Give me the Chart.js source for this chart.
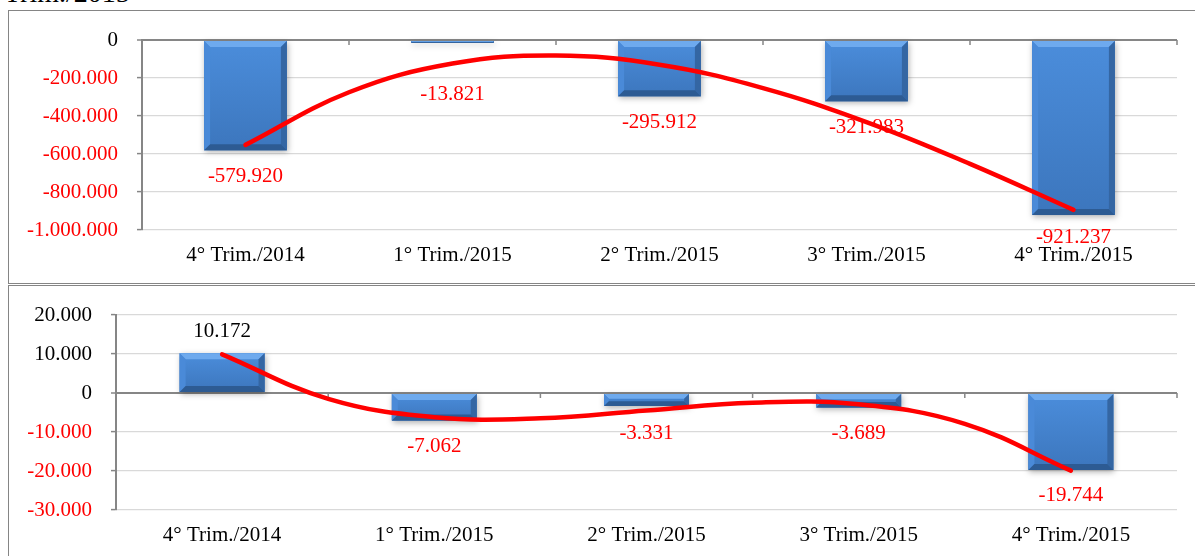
<!DOCTYPE html>
<html lang="pt">
<head>
<meta charset="UTF-8" />
<title>Trimestres</title>
<script src="https://cdn.jsdelivr.net/npm/chart.js"></script>
<style>
  body { margin: 0; width: 1195px; height: 556px; overflow: hidden; background: #fff; position: relative; font-family: 'Liberation Serif', 'Times New Roman', serif; }
  .caption { position: absolute; left: 4px; top: -21px; font-size: 28px; line-height: 1; color: #000; white-space: nowrap; }
  .frame { position: absolute; left: 8px; width: 1200px; border: 1.5px solid #858585; box-sizing: border-box; }
  .box { position: absolute; left: 9px; width: 1186px; }
</style>
</head>
<body>
  <div class="caption">Trim./2015</div>
  <div class="frame" style="top:10px;height:274px"></div>
  <div class="frame" style="top:285px;height:290px"></div>
  <div class="box" style="top:12px;height:270px"><canvas id="chartTop"></canvas></div>
  <div class="box" style="top:287px;height:269px"><canvas id="chartBottom"></canvas></div>

<script>
  // quarters on the x axis
  const quarters = ['4° Trim./2014', '1° Trim./2015', '2° Trim./2015', '3° Trim./2015', '4° Trim./2015'];

  // bar values
  const valuesTop = [-579920, -13821, -295912, -321983, -921237];
  const valuesBottom = [10172, -7062, -3331, -3689, -19744];

  // y axis ticks
  const yTicksTop = [0, -200000, -400000, -600000, -800000, -1000000];
  const yTicksBottom = [20000, 10000, 0, -10000, -20000, -30000];

  // red trend curve at half-category steps
  const trendPos = [0, 0.5, 1, 1.5, 2, 2.5, 3, 3.5, 4];
  const trendTop = [-552000, -275000, -124000, -82000, -130000, -253000, -432000, -652000, -894000];
  const trendBottom = [9900, -1500, -6200, -6500, -4500, -2500, -2900, -7900, -19900];

  const FONT = "'Liberation Serif', 'Times New Roman', serif";

  function fmt(n) {
    const s = Math.abs(Math.round(n)).toString().replace(/\B(?=(\d{3})+(?!\d))/g, '.');
    return (n < 0 ? '-' : '') + s;
  }

  // bevelled bars + value labels (drawn before the trend line)
  const barLook = {
    id: 'barLook',
    afterDatasetDraw(chart, args, opts) {
      if (args.meta.type !== 'bar') return;
      const ctx = chart.ctx;
      const vals = opts.values;
      args.meta.data.forEach((bar, i) => {
        const x0 = bar.x - bar.width / 2, x1 = bar.x + bar.width / 2;
        const y0 = Math.min(bar.y, bar.base), y1 = Math.max(bar.y, bar.base);
        const w = x1 - x0, h = y1 - y0;
        const b = Math.min(6, h / 2.5);
        ctx.save();
        ctx.shadowColor = 'rgba(0,0,0,0.3)';
        ctx.shadowBlur = 6;
        ctx.shadowOffsetX = 1;
        ctx.shadowOffsetY = 2;
        const g = ctx.createLinearGradient(0, y0, 0, y1);
        g.addColorStop(0, '#4b8ddb');
        g.addColorStop(1, '#3c76bd');
        ctx.fillStyle = g;
        ctx.fillRect(x0, y0, w, h);
        ctx.shadowColor = 'transparent';
        const poly = (pts, col) => {
          ctx.beginPath();
          ctx.moveTo(pts[0][0], pts[0][1]);
          pts.slice(1).forEach(p => ctx.lineTo(p[0], p[1]));
          ctx.closePath();
          ctx.fillStyle = col;
          ctx.fill();
        };
        poly([[x0, y0], [x1, y0], [x1 - b, y0 + b], [x0 + b, y0 + b]], '#6eaaee');
        poly([[x0, y0], [x0 + b, y0 + b], [x0 + b, y1 - b], [x0, y1]], '#4a8ad8');
        poly([[x1, y0], [x1, y1], [x1 - b, y1 - b], [x1 - b, y0 + b]], '#3466a3');
        poly([[x0, y1], [x0 + b, y1 - b], [x1 - b, y1 - b], [x1, y1]], '#2d5b93');
        ctx.restore();

        // value label
        const v = vals[i];
        const off = opts.offsets[i];
        const ly = v < 0 ? bar.y + off : bar.y - off;
        ctx.save();
        ctx.font = '21px ' + FONT;
        ctx.fillStyle = v < 0 ? '#ff0000' : '#000000';
        ctx.textAlign = 'center';
        ctx.textBaseline = 'middle';
        ctx.fillText(fmt(v), bar.x, ly);
        ctx.restore();
      });
    }
  };

  // small tick marks on the zero line at category boundaries
  const zeroTicks = {
    id: 'zeroTicks',
    beforeDatasetsDraw(chart) {
      const x = chart.scales.x, y = chart.scales.y;
      const y0 = y.getPixelForValue(0);
      const ctx = chart.ctx;
      ctx.save();
      ctx.strokeStyle = '#868686';
      ctx.lineWidth = 1.5;
      for (let i = 0; i <= quarters.length; i++) {
        const px = x.getPixelForValue(i - 0.5);
        ctx.beginPath();
        ctx.moveTo(px, y0);
        ctx.lineTo(px, y0 + 5);
        ctx.stroke();
      }
      ctx.restore();
    }
  };

  function makeChart(id, values, trend, yTicks, axisWidth, offsets, pad) {
    const yMax = Math.max(...yTicks), yMin = Math.min(...yTicks);
    return new Chart(document.getElementById(id), {
      type: 'bar',
      data: {
        datasets: [
          {
            type: 'line',
            data: trendPos.map((p, i) => ({ x: p, y: trend[i] })),
            borderColor: '#ff0000',
            borderWidth: 4.5,
            borderCapStyle: 'round',
            pointRadius: 0,
            tension: 0.4,
            fill: false,
            order: 0
          },
          {
            type: 'bar',
            data: values.map((v, i) => ({ x: i, y: v })),
            backgroundColor: '#3f7ecb',
            barPercentage: 0.4,
            categoryPercentage: 1,
            order: 1
          }
        ]
      },
      options: {
        responsive: true,
        maintainAspectRatio: false,
        animation: false,
        layout: { padding: pad },
        plugins: {
          legend: { display: false },
          tooltip: { enabled: false },
          barLook: { offsets: offsets, values: values }
        },
        scales: {
          x: {
            type: 'linear',
            min: -0.5,
            max: quarters.length - 0.5,
            offset: false,
            afterBuildTicks: s => { s.ticks = quarters.map((q, i) => ({ value: i })); },
            afterFit: s => { s.height = 39; },
            grid: { display: false, drawTicks: false },
            border: { display: false },
            ticks: {
              autoSkip: false,
              color: '#000',
              font: { family: FONT, size: 21 },
              padding: 13,
              maxRotation: 0,
              callback: v => quarters[v] ?? ''
            }
          },
          y: {
            min: yMin,
            max: yMax,
            afterFit: s => { s.width = axisWidth; s.paddingTop = 0; s.paddingBottom = 0; },
            ticks: {
              stepSize: yTicks[0] - yTicks[1],
              color: c => c.tick.value < 0 ? '#ff0000' : '#000000',
              font: { family: FONT, size: 21 },
              padding: 19,
              callback: v => fmt(v)
            },
            grid: {
              color: c => c.tick.value === 0 ? '#868686' : '#d9d9d9',
              lineWidth: c => c.tick.value === 0 ? 2 : 1.2,
              tickColor: '#868686',
              tickLength: 5,
              tickWidth: 1.5
            },
            border: { display: true, color: '#868686', width: 2 }
          }
        }
      },
      plugins: [barLook, zeroTicks]
    });
  }

  makeChart('chartTop', valuesTop, trendTop, yTicksTop, 133, [26, 52, 26, 26, 22],
    { top: 28, right: 18, bottom: 13, left: 0 });
  makeChart('chartBottom', valuesBottom, trendBottom, yTicksBottom, 107, [22, 26, 27, 26, 25],
    { top: 28, right: 18, bottom: 7, left: 0 });
</script>
</body>
</html>
